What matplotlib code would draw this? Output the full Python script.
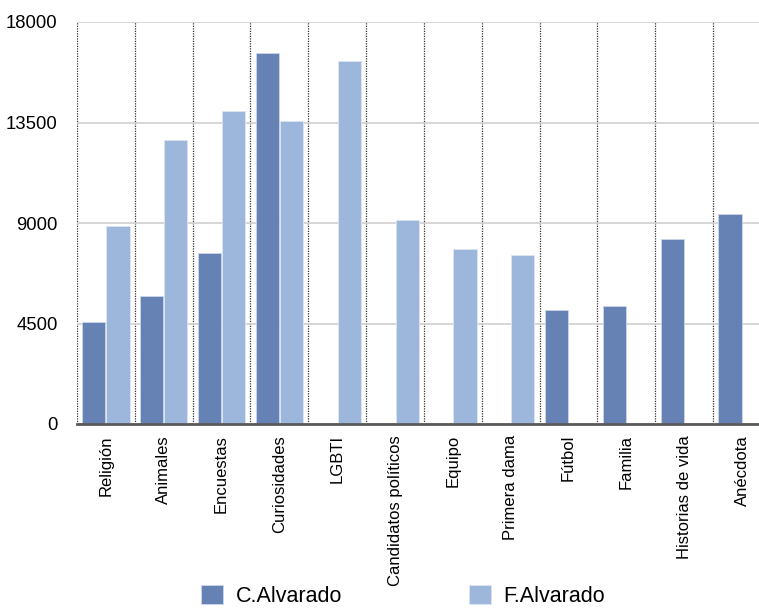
import matplotlib
matplotlib.use("Agg")
import matplotlib.pyplot as plt
import numpy as np

categories = ["Religión", "Animales", "Encuestas", "Curiosidades", "LGBTI",
              "Candidatos políticos", "Equipo", "Primera dama", "Fútbol",
              "Familia", "Historias de vida", "Anécdota"]
c_alvarado = [4550, 5750, 7650, 16600, 0, 0, 0, 0, 5100, 5300, 8300, 9400]
f_alvarado = [8850, 12700, 14000, 13550, 16250, 9150, 7850, 7550, 0, 0, 0, 0]
series_names = ["C.Alvarado", "F.Alvarado"]
y_ticks = [0, 4500, 9000, 13500, 18000]

dark = "#6682b4"
light = "#9cb7db"
font = ["Liberation Sans", "DejaVu Sans"]

fig = plt.figure(figsize=(7.59, 6.09), dpi=100)
ax = fig.add_axes([77/759, 185/609, 694/759, 402/609])

x = np.arange(len(categories))
w = 0.40
gap = 0.02
b1 = ax.bar(x - w/2 - gap/2, c_alvarado, width=w, color=dark,
            edgecolor="#c9d6ea", linewidth=0.6, zorder=3)
b2 = ax.bar(x + w/2 + gap/2, f_alvarado, width=w, color=light,
            edgecolor="#dce6f3", linewidth=0.6, zorder=3)

ax.set_xlim(-0.5, len(categories) - 0.5)
ax.set_ylim(0, 18000)
ax.set_yticks(y_ticks)
ax.set_yticklabels([str(v) for v in y_ticks], fontsize=13.3, family=font)
ax.tick_params(axis="y", length=0, pad=14)

ax.set_xticks(x)
ax.set_xticklabels(categories, rotation=90, fontsize=12, family=font,
                   va="top", ha="center")
ax.tick_params(axis="x", length=0, pad=8)

ax.yaxis.grid(True, color="#cfcfcf", linewidth=1.2, zorder=0)
for b in np.arange(-0.5, len(categories), 1.0):
    ax.axvline(b, color="#333333", linestyle=(0, (1, 1)), linewidth=0.9, zorder=1)

for s in ["left", "right", "top"]:
    ax.spines[s].set_visible(False)
ax.spines["bottom"].set_color("#5a5a5a")
ax.spines["bottom"].set_linewidth(2)
ax.spines["bottom"].set_zorder(4)

leg = fig.legend([b1, b2], series_names, loc="lower left",
                 bbox_to_anchor=(182/759, -17/609), ncol=2, frameon=False,
                 prop={"family": font, "size": 15.5}, handlelength=1.0,
                 handleheight=1.0, columnspacing=5.9, handletextpad=0.6)

fig.savefig("out.png", dpi=100)
